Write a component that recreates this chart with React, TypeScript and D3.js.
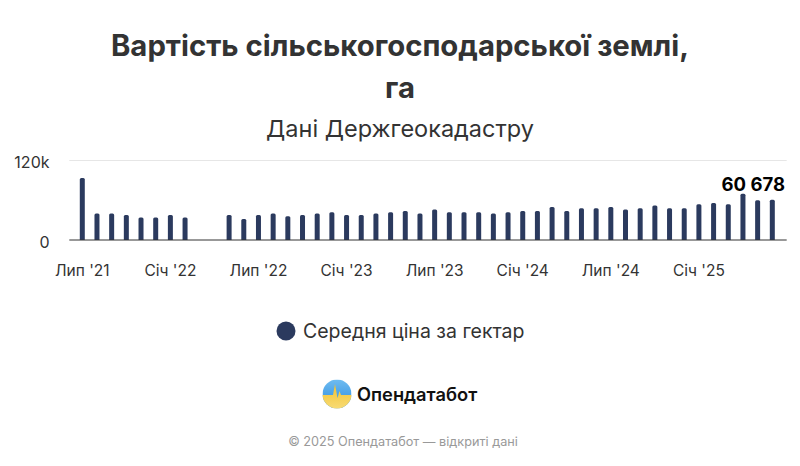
import React from "react";
import * as d3 from "d3";

// ---- data ----
const months: string[] = [
  "2021-07","2021-08","2021-09","2021-10","2021-11","2021-12",
  "2022-01","2022-02","2022-03","2022-04","2022-05","2022-06",
  "2022-07","2022-08","2022-09","2022-10","2022-11","2022-12",
  "2023-01","2023-02","2023-03","2023-04","2023-05","2023-06",
  "2023-07","2023-08","2023-09","2023-10","2023-11","2023-12",
  "2024-01","2024-02","2024-03","2024-04","2024-05","2024-06",
  "2024-07","2024-08","2024-09","2024-10","2024-11","2024-12",
  "2025-01","2025-02","2025-03","2025-04","2025-05","2025-06",
];
const prices: (number | null)[] = [
  93700, 39900, 39900, 37800, 33800, 33800,
  37800, 33800, null, null, 37800, 31700,
  37800, 39900, 35800, 37800, 39900, 41800,
  37800, 37800, 39900, 41800, 43800, 39900,
  45900, 41800, 41800, 41800, 39900, 41800,
  43800, 43800, 49800, 43800, 47900, 47900,
  49800, 45900, 47900, 52000, 47900, 47900,
  53900, 55900, 53900, 70000, 60000, 60678,
];
const xTickIndex: number[] = [0, 6, 12, 18, 24, 30, 36, 42];
const xTickLabels: string[] = ["Лип '21", "Січ '22", "Лип '22", "Січ '23", "Лип '23", "Січ '24", "Лип '24", "Січ '25"];
const yTicks: number[] = [0, 120000];
const yTickLabels: string[] = ["0", "120k"];
const titleLines: string[] = ["Вартість сільськогосподарської землі,", "га"];
const subtitle = "Дані Держгеокадастру";
const seriesName = "Середня ціна за гектар";
const brand = "Опендатабот";
const credits = "© 2025 Опендатабот — відкриті дані";

const FONT = "Inter, 'Noto Sans', 'Liberation Sans', sans-serif";
const BAR = "#2b3a5e";

export default function App() {
  const x = d3.scaleLinear().domain([-0.885, 47.98]).range([69.3, 786.7]);
  const y = d3.scaleLinear().domain([0, 120000]).range([240, 160.5]);
  const bw = 5;
  const r = 1.5;
  const fmt = (v: number) => d3.format(",")(v).replace(/,/g, " ");
  const lastIdx = prices.length - 1;
  const lastVal = prices[lastIdx] as number;

  const barPath = (i: number, v: number) => {
    const x0 = x(i) - bw / 2;
    const x1 = x(i) + bw / 2;
    const y0 = y(0);
    const yt = y(v);
    return `M${x0},${y0}L${x0},${yt + r}Q${x0},${yt} ${x0 + r},${yt}L${x1 - r},${yt}Q${x1},${yt} ${x1},${yt + r}L${x1},${y0}Z`;
  };

  // logo geometry
  const lc = { x: 337, y: 394, r: 14.5 };
  const pulse = d3.line()([
    [lc.x - 16, lc.y + 1],
    [lc.x - 4, lc.y + 1],
    [lc.x - 2, lc.y - 10],
    [lc.x + 0.5, lc.y + 4],
    [lc.x + 2.5, lc.y - 3],
    [lc.x + 4, lc.y + 1],
    [lc.x + 16, lc.y + 1],
    [lc.x + 16, lc.y + 16],
    [lc.x - 16, lc.y + 16],
  ]) + "Z";

  return (
    <div style={{ position: "absolute", left: 0, top: 0 }}>
      <svg width={800} height={466} style={{ display: "block", fontFamily: FONT }}>
        <defs>
          <linearGradient id="blueG" x1="0" y1="0" x2="0" y2="1">
            <stop offset="0" stopColor="#6fbcf0" />
            <stop offset="1" stopColor="#2a8ae0" />
          </linearGradient>
          <linearGradient id="yelG" x1="0" y1="0" x2="0" y2="1">
            <stop offset="0" stopColor="#f2c230" />
            <stop offset="1" stopColor="#f8dc78" />
          </linearGradient>
          <clipPath id="logoClip">
            <circle cx={lc.x} cy={lc.y} r={lc.r} />
          </clipPath>
        </defs>
        <rect width={800} height={466} fill="#ffffff" />

        {titleLines.map((t, i) => (
          <text key={i} x={400} y={56 + i * 42} textAnchor="middle" fontSize={29.3} fontWeight={700} fill="#333333">
            {t}
          </text>
        ))}
        <text x={400} y={137} textAnchor="middle" fontSize={23.5} fill="#333333">{subtitle}</text>

        {/* grid */}
        {yTicks.map((t, i) => (
          <g key={i}>
            {t !== 0 && <line x1={69.3} x2={786.7} y1={y(t)} y2={y(t)} stroke="#e6e6e6" strokeWidth={1} />}
            <text x={49.5} y={y(t) + 7.5} textAnchor="end" fontSize={16} fill="#333333">{yTickLabels[i]}</text>
          </g>
        ))}

        {/* bars */}
        {prices.map((v, i) => (v == null ? null : <path key={months[i]} d={barPath(i, v)} fill={BAR} />))}

        {/* axis line */}
        <line x1={69.3} x2={786.7} y1={y(0)} y2={y(0)} stroke="#333333" strokeWidth={1} />

        {/* x labels */}
        {xTickIndex.map((idx, i) => (
          <text key={idx} x={x(idx)} y={276} textAnchor="middle" fontSize={15.5} fill="#333333">{xTickLabels[i]}</text>
        ))}

        {/* data label */}
        <text x={785} y={191} textAnchor="end" fontSize={18.5} fontWeight={700} fill="#000000"
          stroke="#ffffff" strokeWidth={3} paintOrder="stroke" strokeLinejoin="round">
          {fmt(lastVal)}
        </text>

        {/* legend */}
        <circle cx={286} cy={331} r={9.5} fill={BAR} />
        <text x={303} y={338} fontSize={19.5} fill="#333333">{seriesName}</text>

        {/* logo */}
        <g clipPath="url(#logoClip)">
          <rect x={lc.x - lc.r} y={lc.y - lc.r} width={lc.r * 2} height={lc.r * 2} fill="url(#blueG)" />
          <path d={pulse} fill="url(#yelG)" />
        </g>
        <text x={357} y={401} fontSize={18.3} fontWeight={600} fill="#111111">{brand}</text>

        <text x={403} y={446} textAnchor="middle" fontSize={12.7} fill="#999999">{credits}</text>
      </svg>
    </div>
  );
}
